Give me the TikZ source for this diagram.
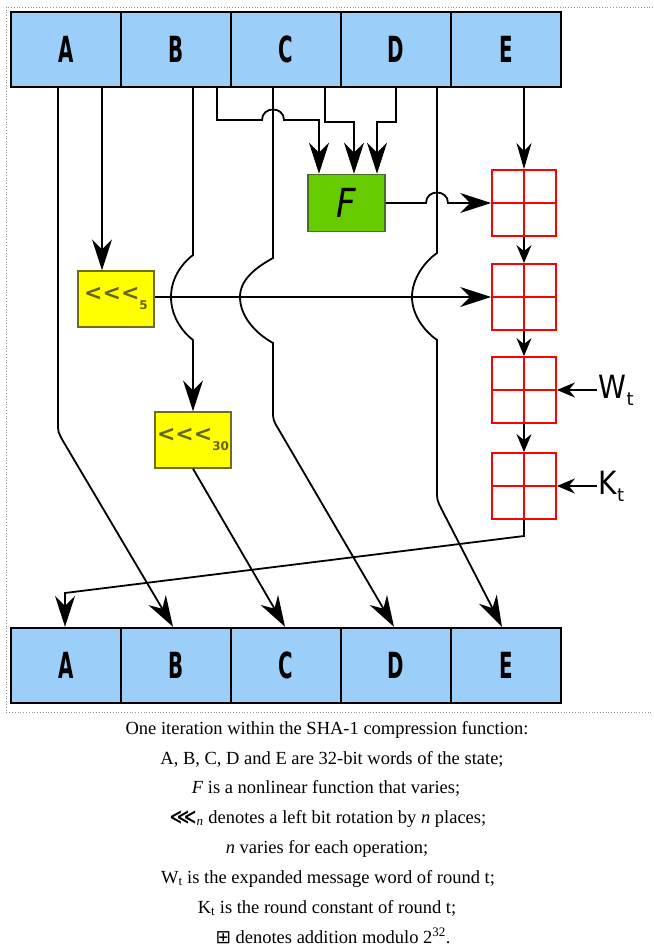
\documentclass[tikz,border=0pt]{standalone}
\usepackage{fontspec}
\usepackage{graphicx}
\setmainfont{Liberation Serif}
\newfontfamily\djv{DejaVu Sans}
\usetikzlibrary{arrows.meta,calc}
\definecolor{regblue}{RGB}{155,207,250}
\definecolor{fgreen}{RGB}{102,204,0}
\definecolor{fborder}{RGB}{70,110,40}
\definecolor{rotyellow}{RGB}{255,255,0}
\definecolor{rotborder}{RGB}{110,110,30}
\definecolor{rottext}{RGB}{100,100,10}
\definecolor{addred}{RGB}{255,0,0}
\definecolor{framegray}{RGB}{150,150,150}
\begin{document}
\begin{tikzpicture}[x=1pt,y=-1pt,
  reg/.style={draw=black, line width=2.4pt, fill=regblue, minimum width=110pt, minimum height=75pt, inner sep=0pt,
    font=\djv\bfseries\fontsize{36}{36}\selectfont},
  rotbox/.style={draw=rotborder, line width=1.4pt, fill=rotyellow, minimum width=76pt, minimum height=56pt, inner sep=0pt,
    text=rottext, font=\djv\bfseries\fontsize{22}{22}\selectfont},
  fnbox/.style={draw=fborder, line width=1.5pt, fill=fgreen, minimum width=77pt, minimum height=57pt, inner sep=0pt,
    font=\djv\itshape\fontsize{40}{40}\selectfont},
  adder/.style={draw=addred, line width=1.8pt, minimum width=64pt, minimum height=66pt, inner sep=0pt,
    path picture={\draw[addred,line width=1.8pt] (path picture bounding box.north) -- (path picture bounding box.south)
      (path picture bounding box.west) -- (path picture bounding box.east);}},
  lbl/.style={inner sep=1.5pt, font=\djv\fontsize{32}{32}\selectfont},
  conn/.style={draw=black, line width=1.8pt},
  bigtip/.style={-{Stealth[length=31pt,width=20pt,inset=10pt]}},
  smalltip/.style={-{Stealth[length=18pt,width=15pt,inset=6pt]}},
  etip/.style={-{Stealth[length=26pt,width=15pt,inset=8pt]}},
  captxt/.style={anchor=base, inner sep=0pt, font=\fontsize{18.5}{22}\selectfont}
]
\useasboundingbox (0,0) rectangle (653,952);

% dotted frame
\draw[framegray, dotted, line width=0.8pt] (653,7) -- (6,7) -- (6,712) -- (653,712);

% registers
\foreach \n/\l [count=\i from 0] in {A/A,B/B,C/C,D/D,E/E} {
  \node[reg] (t\n) at (66+110*\i,49.5) {\raisebox{-5pt}{\scalebox{0.55}[1]{\l}}};
  \node[reg] (b\n) at (66+110*\i,665.5) {\raisebox{-4pt}{\scalebox{0.55}[1]{\l}}};
}

% function boxes
\node[fnbox] (fn) at (346.5,203) {\scalebox{0.85}[1]{F}};
\node[rotbox] (rot5) at (116,299) {<<<\raisebox{-9pt}{\fontsize{12}{12}\selectfont 5}};
\node[rotbox] (rot30) at (193,440) {<<<\raisebox{-9pt}{\fontsize{12}{12}\selectfont 30}};

% adders
\node[adder] (add1) at (524,203) {};
\node[adder] (add2) at (524,297) {};
\node[adder] (add3) at (524,390) {};
\node[adder] (add4) at (524,486) {};

% labels
\node[lbl, anchor=west] (Wl) at (597,390) {\scalebox{0.88}[1]{W}\raisebox{-7pt}{\fontsize{18}{18}\selectfont t}};
\node[lbl, anchor=west] (Kl) at (597,486) {\scalebox{0.88}[1]{K}\raisebox{-7pt}{\fontsize{18}{18}\selectfont t}};

% A long
\draw[conn, bigtip] ([xshift=-8pt]tA.south) -- (58,422) .. controls (58,432) .. (63,441) -- ([xshift=-3pt]bB.north);
% A -> rot5
\draw[conn, bigtip] ([xshift=36pt]tA.south) -- ([xshift=36pt]tA.south |- rot5.north);
% B -> rot30
\draw[conn, bigtip] ([xshift=17pt]tB.south) -- (193,255)
  .. controls (180,265) and (171,280) .. (171,297)
  .. controls (171,314) and (180,330) .. (193,340) -- (rot30.north);
% B -> F
\draw[conn, bigtip] ([xshift=41pt]tB.south) -- (217,120) -- (262,120)
  .. controls (262,106) and (284,106) .. (284,120) -- (319,120) -- ([xshift=-27.5pt]fn.north);
% C -> F
\draw[conn, bigtip] ([xshift=39pt]tC.south) -- (325,122) -- (354,122) -- ([xshift=7.5pt]fn.north);
% D -> F
\draw[conn, bigtip] (tD.south) -- (396,122) -- (377,122) -- ([xshift=30.5pt]fn.north);
% C long
\draw[conn, bigtip] ([xshift=-13pt]tC.south) -- (273,258)
  .. controls (255,268) and (240,280) .. (240,297)
  .. controls (240,316) and (255,333) .. (273,343) -- (273,410)
  .. controls (273,420) .. (279,430) -- ([xshift=-2pt]bD.north);
% D long
\draw[conn, bigtip] ([xshift=41pt]tD.south) -- (437,253)
  .. controls (423,263) and (412,280) .. (412,297)
  .. controls (412,314) and (423,330) .. (437,340) -- (437,490)
  .. controls (437,500) .. (441.5,509) -- ([xshift=-4pt]bE.north);
% E -> add1
\draw[conn, etip] ([xshift=18pt]tE.south) -- (add1.north);
% F -> add1
\draw[conn, bigtip] (fn.east) -- (426,203) .. controls (426,189) and (448,189) .. (448,203) -- (add1.west);
% rot5 -> add2
\draw[conn, bigtip] (rot5.east |- add2.west) -- (add2.west);
% adder chain
\draw[conn, smalltip] (add1.south) -- (add2.north);
\draw[conn, smalltip] (add2.south) -- (add3.north);
\draw[conn, smalltip] (add3.south) -- (add4.north);
\draw[conn, smalltip] (Wl.west) -- (add3.east);
\draw[conn, smalltip] (Kl.west) -- (add4.east);
% add4 -> A
\draw[conn, bigtip] (add4.south) -- (524,536) -- (65,593) -- ([xshift=-1pt]bA.north);
% rot30 -> C
\draw[conn, bigtip] (rot30.south) -- ([xshift=-1pt]bC.north);

% caption
\node[captxt] (c1) at (327,734) {One iteration within the SHA-1 compression function:};
\node[captxt] (c2) at (332,764) {A, B, C, D and E are 32-bit words of the state;};
\node[captxt] (c3) at (326,793) {\textit{F} is a nonlinear function that varies;};
\node[captxt] (c4) at (328,823) {{\djv\bfseries\fontsize{19}{19}\selectfont ⋘}\textsubscript{\textit{n}} denotes a left bit rotation by \textit{n} places;};
\node[captxt] (c5) at (327,853) {\textit{n} varies for each operation;};
\node[captxt] (c6) at (328,883) {W\textsubscript{t} is the expanded message word of round t;};
\node[captxt] (c7) at (327,913) {K\textsubscript{t} is the round constant of round t;};
\node[captxt] (c8) at (333,943) {{\djv ⊞} denotes addition modulo 2\textsuperscript{32}.};
\end{tikzpicture}
\end{document}
